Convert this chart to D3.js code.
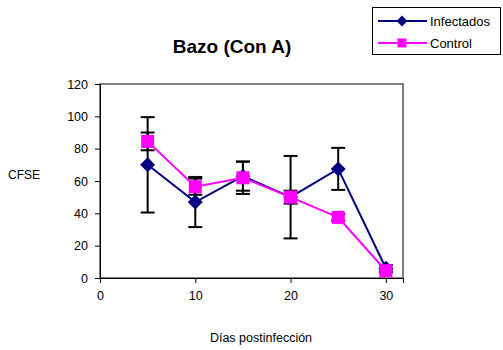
<!DOCTYPE html>
<html>
<head>
<meta charset="utf-8">
<script src="https://cdn.jsdelivr.net/npm/d3@7/dist/d3.min.js"></script>
<style>
  html, body { margin: 0; padding: 0; background: #fff; }
  svg { display: block; font-family: "Liberation Sans", Arial, sans-serif; }
</style>
</head>
<body>
<svg id="chart" width="503" height="350"></svg>
<script>
// Days post-infection
const days = [5, 10, 15, 20, 25, 30];
// Infectados: mean CFSE and error
const infectados = [70, 47, 63, 50, 67.5, 6];
const infectadosErr = [29.5, 15.5, 9, 25.5, 13, 2];
// Control: mean CFSE and error
const control = [84.5, 56.5, 62, 50, 37.5, 4.5];
const controlErr = [5.5, 5, 10, 4, 2, 1];
const xTicks = [0, 10, 20, 30];
const yTicks = [0, 20, 40, 60, 80, 100, 120];

const svg = d3.select("#chart");
const plot = { left: 100, right: 403, top: 84, bottom: 278 };

const x = d3.scaleLinear().domain([0, 31.8]).range([plot.left, plot.right]);
const y = d3.scaleLinear().domain([0, 120]).range([plot.bottom, plot.top]);

// Plot area frame
svg.append("rect")
  .attr("x", plot.left).attr("y", plot.top)
  .attr("width", plot.right - plot.left).attr("height", plot.bottom - plot.top)
  .attr("fill", "#fff").attr("stroke", "#808080").attr("stroke-width", 2);

// Axes
const yAxis = svg.append("g").attr("transform", `translate(${plot.left},0)`)
  .call(d3.axisLeft(y).tickValues(yTicks).tickSize(5).tickPadding(7));
const xAxis = svg.append("g").attr("transform", `translate(0,${plot.bottom})`)
  .call(d3.axisBottom(x).tickValues(xTicks).tickSize(5).tickPadding(8));
[yAxis, xAxis].forEach(g => {
  g.select(".domain").attr("stroke", "#000").attr("stroke-width", 1);
  g.selectAll(".tick line").attr("stroke", "#000");
  g.selectAll("text").attr("font-size", 12.5).attr("fill", "#000")
    .attr("font-family", '"Liberation Sans", Arial, sans-serif');
});

const series = [
  { name: "Infectados", values: infectados, err: infectadosErr, color: "#000080", marker: "diamond" },
  { name: "Control", values: control, err: controlErr, color: "#FF00FF", marker: "square" }
];

const line = d3.line().x(d => x(d[0])).y(d => y(d[1]));
const capW = 7;

// Error bars
series.forEach(s => {
  const g = svg.append("g").attr("stroke", "#000").attr("stroke-width", 2);
  days.forEach((d, i) => {
    const lo = y(s.values[i] - s.err[i]), hi = y(s.values[i] + s.err[i]), cx = x(d);
    g.append("line").attr("x1", cx).attr("x2", cx).attr("y1", lo).attr("y2", hi);
    g.append("line").attr("x1", cx - capW).attr("x2", cx + capW).attr("y1", lo).attr("y2", lo);
    g.append("line").attr("x1", cx - capW).attr("x2", cx + capW).attr("y1", hi).attr("y2", hi);
  });
});

function drawMarker(g, type, cx, cy, color) {
  if (type === "diamond") {
    const r = 7.5;
    g.append("path")
      .attr("d", `M${cx},${cy - r}L${cx + r},${cy}L${cx},${cy + r}L${cx - r},${cy}Z`)
      .attr("fill", color);
  } else {
    const s = 13;
    g.append("rect").attr("x", cx - s / 2).attr("y", cy - s / 2)
      .attr("width", s).attr("height", s).attr("fill", color);
  }
}

// Lines and markers
series.forEach(s => {
  const pts = days.map((d, i) => [d, s.values[i]]);
  svg.append("path").datum(pts).attr("d", line)
    .attr("fill", "none").attr("stroke", s.color).attr("stroke-width", 2);
  const g = svg.append("g");
  pts.forEach(p => drawMarker(g, s.marker, x(p[0]), y(p[1]), s.color));
});

// Title and axis labels
svg.append("text").attr("x", 232).attr("y", 53).attr("text-anchor", "middle")
  .attr("font-size", 19).attr("font-weight", "bold").text("Bazo (Con A)");
svg.append("text").attr("x", 8).attr("y", 179).attr("font-size", 12).text("CFSE");
svg.append("text").attr("x", 261).attr("y", 342).attr("text-anchor", "middle")
  .attr("font-size", 12.5).text("Días postinfección");

// Legend
const lg = svg.append("g");
lg.append("rect").attr("x", 372.5).attr("y", 7.5).attr("width", 128).attr("height", 47)
  .attr("fill", "#fff").attr("stroke", "#000").attr("stroke-width", 1);
series.forEach((s, i) => {
  const ly = 21 + i * 22;
  lg.append("line").attr("x1", 378).attr("x2", 427).attr("y1", ly).attr("y2", ly)
    .attr("stroke", s.color).attr("stroke-width", 2);
  const mg = lg.append("g");
  if (s.marker === "diamond") {
    const r = 5.5;
    mg.append("path").attr("d", `M402,${ly - r}L${402 + r},${ly}L402,${ly + r}L${402 - r},${ly}Z`).attr("fill", s.color);
  } else {
    mg.append("rect").attr("x", 397.5).attr("y", ly - 4.5).attr("width", 9).attr("height", 9).attr("fill", s.color);
  }
  lg.append("text").attr("x", 430).attr("y", ly + 4.5).attr("font-size", 13).text(s.name);
});
</script>
</body>
</html>
